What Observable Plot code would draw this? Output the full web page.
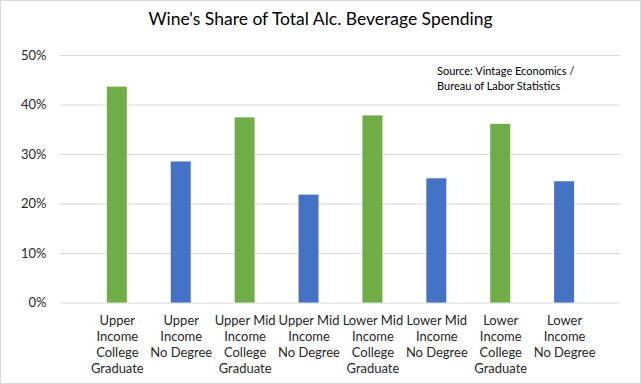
<!DOCTYPE html>
<html>
<head>
<meta charset="utf-8">
<script src="https://cdn.jsdelivr.net/npm/d3@7"></script>
<script src="https://cdn.jsdelivr.net/npm/@observablehq/plot@0.6"></script>
<style>
  html, body { margin: 0; padding: 0; background: #fff; }
  #wrap { position: relative; width: 641px; height: 384px; box-sizing: border-box; border: 1px solid #d9d9d9; font-family: Lato, "Open Sans", sans-serif; overflow: hidden; }
  #title { position: absolute; left: 0; right: 0; top: 7px; text-align: center; font-size: 17.5px; color: #000; }
  #source { position: absolute; left: 436px; top: 62px; font-size: 11px; line-height: 15px; color: #000; }
  #chart { position: absolute; left: -1px; top: 35px; }
</style>
</head>
<body>
<div id="wrap">
  <div id="title">Wine's Share of Total Alc. Beverage Spending</div>
  <div id="chart"></div>
  <div id="source">Source: Vintage Economics /<br>Bureau of Labor Statistics</div>
</div>
<script>
const categories = [
  "Upper\nIncome\nCollege\nGraduate",
  "Upper\nIncome\nNo Degree",
  "Upper Mid\nIncome\nCollege\nGraduate",
  "Upper Mid\nIncome\nNo Degree",
  "Lower Mid\nIncome\nCollege\nGraduate",
  "Lower Mid\nIncome\nNo Degree",
  "Lower\nIncome\nCollege\nGraduate",
  "Lower\nIncome\nNo Degree"
];
const shares = [43.6, 28.5, 37.4, 21.8, 37.8, 25.1, 36.1, 24.5];
const education = ["College Graduate", "No Degree", "College Graduate", "No Degree", "College Graduate", "No Degree", "College Graduate", "No Degree"];
const yTicks = [0, 10, 20, 30, 40, 50];

const data = categories.map((c, i) => ({category: c, share: shares[i], education: education[i]}));

const chart = Plot.plot({
  width: 641,
  height: 349,
  marginTop: 19,
  marginBottom: 82,
  marginLeft: 60,
  marginRight: 20,
  style: {fontFamily: "Lato, 'Open Sans', sans-serif", background: "transparent"},
  x: {domain: categories, padding: 0.69, label: null},
  y: {domain: [0, 50], label: null},
  color: {domain: ["College Graduate", "No Degree"], range: ["#70AD47", "#4472C4"]},
  marks: [
    Plot.gridY(yTicks, {stroke: "#d9d9d9", strokeOpacity: 1, strokeWidth: 1}),
    Plot.barY(data, {x: "category", y: "share", fill: "education"}),
    Plot.axisY(yTicks, {tickSize: 0, tickPadding: 14, fontSize: 13, color: "#262626", tickFormat: d => d + "%", label: null}),
    Plot.axisX({tickSize: 0, tickPadding: 10, fontSize: 13, lineHeight: 1.25, color: "#262626", label: null})
  ]
});
document.getElementById("chart").appendChild(chart);
</script>
</body>
</html>
